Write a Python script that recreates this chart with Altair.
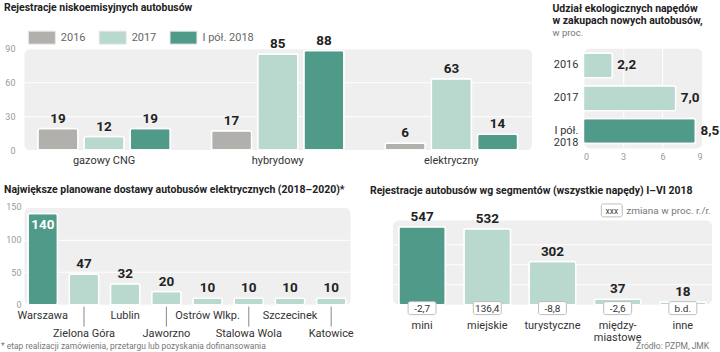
import altair as alt
import pandas as pd

# ---------------- data ----------------
p1_categories = ["gazowy CNG", "hybrydowy", "elektryczny"]
p1_years = ["2016", "2017", "I pół. 2018"]
p1_2016 = [19, 17, 6]
p1_2017 = [12, 85, 63]
p1_2018 = [19, 88, 14]

p2_years = ["2016", "2017", "I pół. 2018"]
p2_ylabels = ["2016", "2017", "I pół.\n2018"]
p2_values = [2.2, 7.0, 8.5]

p3_cities = ["Warszawa", "Zielona Góra", "Lublin", "Jaworzno",
             "Ostrów Wlkp.", "Stalowa Wola", "Szczecinek", "Katowice"]
p3_values = [140, 47, 32, 20, 10, 10, 10, 10]

p4_segments = ["mini", "miejskie", "turystyczne", "międzymiastowe", "inne"]
p4_labels = ["mini", "miejskie", "turystyczne", "między-\nmiastowe", "inne"]
p4_values = [547, 532, 302, 37, 18]
p4_changes = ["-2,7", "136,4", "-8,8", "-2,6", "b.d."]
p4_ticks = [0, 140, 280, 420, 560]

# ---------------- style ----------------
GRAY = "#b1b0ac"
LIGHT = "#b9d9cf"
TEAL = "#4f9a88"
BG = "#efefef"
BOLD = "Roboto"
REG = "Roboto"
AXLAB = "#9a9a9a"
TSIZE = 10.5
VSIZE = 13.5


def pl(v):
    return f"{v:.1f}".replace(".", ",")


# ---------------- panel 1 ----------------
rows1 = []
for vals, yr in zip([p1_2016, p1_2017, p1_2018], p1_years):
    for c, v in zip(p1_categories, vals):
        rows1.append({"category": c, "year": yr, "value": v})
df1 = pd.DataFrame(rows1)

base1 = alt.Chart(df1).encode(
    x=alt.X("category:N", sort=p1_categories,
            scale=alt.Scale(paddingInner=0.237, paddingOuter=0.08),
            axis=alt.Axis(title=None, labelAngle=0, ticks=False, domain=False,
                          labelPadding=4, labelFontSize=11, labelColor="#333",
                          labelFont=REG, grid=False)),
    xOffset=alt.XOffset("year:N", sort=p1_years,
                        scale=alt.Scale(paddingInner=0.13, paddingOuter=0)),
    y=alt.Y("value:Q", scale=alt.Scale(domain=[0, 90], nice=False),
            axis=alt.Axis(values=[0, 30, 60, 90], title=None, ticks=False,
                          domain=False, labelColor=AXLAB, labelFontSize=9,
                          labelFont=REG, gridColor="white", labelPadding=9)),
)
bars1 = base1.mark_bar(cornerRadius=2, stroke="white", strokeWidth=1.5).encode(
    color=alt.Color("year:N", sort=p1_years,
                    scale=alt.Scale(domain=p1_years, range=[GRAY, LIGHT, TEAL]),
                    legend=alt.Legend(title=None, orient="none", legendX=4, legendY=-25,
                                      direction="horizontal",
                                      symbolType="M-1,-0.48H1V0.48H-1Z",
                                      symbolSize=729, symbolStrokeWidth=1,
                                      symbolStrokeColor="#e6e6e6",
                                      labelFont=REG, labelFontSize=11,
                                      labelColor="#666", columnPadding=11,
                                      labelOffset=5))
)
text1 = base1.mark_text(baseline="bottom", dy=-3, font=BOLD, fontWeight="bold",
                        fontSize=VSIZE, color="#222").encode(text="value:Q")
p1 = alt.layer(bars1, text1).properties(
    width=509, height=102,
    title=alt.TitleParams(text="Rejestracje niskoemisyjnych autobusów", anchor="start",
                          frame="group", dx=-20, offset=10, font=BOLD,
                          fontSize=TSIZE, fontWeight="bold", color="#222"))

# ---------------- panel 2 ----------------
df2 = pd.DataFrame({"year": p2_years, "ylabel": p2_ylabels, "value": p2_values,
                    "label": [pl(v) for v in p2_values], "hl": [0, 0, 1]})
y2 = alt.Y("year:N", sort=p2_years, axis=None,
           scale=alt.Scale(paddingInner=0.24, paddingOuter=0.14))
x2 = alt.X("value:Q", scale=alt.Scale(domain=[0, 9], nice=False),
           axis=alt.Axis(values=[0, 3, 6, 9], title=None, ticks=False, domain=False,
                         labelColor=AXLAB, labelFontSize=9, labelFont=REG,
                         gridColor="white", labelPadding=4))
bars2 = alt.Chart(df2).mark_bar(cornerRadius=2, stroke="white", strokeWidth=1.5).encode(
    x=x2, y=y2,
    color=alt.Color("hl:N", scale=alt.Scale(domain=[0, 1], range=[LIGHT, TEAL]), legend=None))
text2 = alt.Chart(df2).mark_text(align="left", dx=5, font=BOLD, fontWeight="bold",
                                 fontSize=VSIZE, color="#222").encode(x=x2, y=y2, text="label:N")
ylab2 = alt.Chart(df2).mark_text(align="right", baseline="middle", lineBreak="\n",
                                 font=REG, fontSize=11, color="#333", lineHeight=12).encode(
    x=alt.value(-5), y=y2, text="ylabel:N")
p2 = alt.layer(bars2, text2, ylab2).properties(
    width=119, height=100,
    title=alt.TitleParams(text=["Udział ekologicznych napędów", "w zakupach nowych autobusów,"],
                          subtitle="w proc.", anchor="start", frame="group", dx=-31,
                          offset=11, font=BOLD, fontSize=TSIZE, fontWeight="bold",
                          color="#222", lineHeight=12, subtitleFont=REG,
                          subtitleFontSize=9.5, subtitleColor="#777", subtitlePadding=1))

# ---------------- panel 3 ----------------
df3 = pd.DataFrame({"city": p3_cities, "value": p3_values,
                    "hl": [1 if i == 0 else 0 for i in range(len(p3_cities))],
                    "row": [i % 2 for i in range(len(p3_cities))]})
H3 = 98
x3 = alt.X("city:N", sort=p3_cities, axis=None,
           scale=alt.Scale(paddingInner=0.285, paddingOuter=0.1))
y3 = alt.Y("value:Q", scale=alt.Scale(domain=[0, 150], nice=False),
           axis=alt.Axis(values=[0, 50, 100, 150], title=None, ticks=False, domain=False,
                         labelColor=AXLAB, labelFontSize=9, labelFont=REG,
                         gridColor="white", labelPadding=3))
base3 = alt.Chart(df3).encode(x=x3)
bars3 = base3.mark_bar(cornerRadius=2, stroke="white", strokeWidth=1.5).encode(
    y=y3, color=alt.Color("hl:N", scale=alt.Scale(domain=[0, 1], range=[LIGHT, TEAL]), legend=None))
text3a = base3.transform_filter("datum.hl == 0").mark_text(
    baseline="bottom", dy=-3, font=BOLD, fontWeight="bold", fontSize=VSIZE, color="#222").encode(
    y=y3, text="value:Q")
text3b = base3.transform_filter("datum.hl == 1").mark_text(
    baseline="top", dy=5, font=BOLD, fontWeight="bold", fontSize=VSIZE, color="white").encode(
    y=y3, text="value:Q")
lab3a = base3.transform_filter("datum.row == 0").mark_text(
    baseline="top", font=REG, fontSize=11, color="#333").encode(
    y=alt.value(H3 + 5), text="city:N")
lab3b = base3.transform_filter("datum.row == 1").mark_text(
    baseline="top", font=REG, fontSize=11, color="#333").encode(
    y=alt.value(H3 + 23), text="city:N")
rule3 = base3.transform_filter("datum.row == 1").mark_rule(color="#888", strokeWidth=1).encode(
    y=alt.value(H3 + 2), y2=alt.value(H3 + 22))
note3 = base3.transform_filter("datum.hl == 1").mark_text(
    align="left", baseline="top", font=REG, fontSize=8.5, color="#777").encode(
    x=alt.value(-23), y=alt.value(H3 + 37),
    text=alt.value("* etap realizacji zamówienia, przetargu lub pozyskania dofinansowania"))
p3 = alt.layer(bars3, text3a, text3b, rule3, lab3a, lab3b, note3).properties(
    width=327, height=H3,
    title=alt.TitleParams(text="Największe planowane dostawy autobusów elektrycznych (2018–2020)*",
                          anchor="start", frame="group", dx=-20, offset=7, font=BOLD,
                          fontSize=TSIZE, fontWeight="bold", color="#222"))

# ---------------- panel 4 ----------------
df4 = pd.DataFrame({"seg": p4_segments, "label": p4_labels, "value": p4_values,
                    "change": p4_changes, "hl": [1, 0, 0, 0, 0]})
H4 = 98
W4 = 320
x4 = alt.X("seg:N", sort=p4_segments, axis=None,
           scale=alt.Scale(paddingInner=0.285, paddingOuter=0.09))
y4scale = alt.Scale(domain=[0, 686], nice=False)
y4 = alt.Y("value:Q", scale=y4scale,
           axis=alt.Axis(values=p4_ticks, title=None, ticks=False, domain=False,
                         labelColor=AXLAB, labelFontSize=9, labelFont=REG,
                         grid=False, labelPadding=8))
bg4 = alt.Chart(pd.DataFrame({"y0": [0], "y1": [590]})).mark_rect(
    fill=BG, cornerRadius=6).encode(
    x=alt.value(0), x2=alt.value(W4),
    y=alt.Y("y0:Q", scale=y4scale, axis=None), y2="y1:Q")
grid4 = alt.Chart(pd.DataFrame({"t": p4_ticks[1:-1]})).mark_rule(
    color="white", strokeWidth=1).encode(
    y=alt.Y("t:Q", scale=y4scale, axis=None), x=alt.value(0), x2=alt.value(W4))
base4 = alt.Chart(df4).encode(x=x4)
bars4 = base4.mark_bar(cornerRadius=2, stroke="white", strokeWidth=1.5).encode(
    y=y4, color=alt.Color("hl:N", scale=alt.Scale(domain=[0, 1], range=[LIGHT, TEAL]), legend=None))
text4 = base4.mark_text(baseline="bottom", dy=-3, font=BOLD, fontWeight="bold",
                        fontSize=VSIZE, color="#222").encode(y=y4, text="value:Q")
box4 = base4.mark_bar(width=28, fill="white", stroke="#bdbdbd", strokeWidth=1,
                      cornerRadius=2).encode(y=alt.value(H4 - 3), y2=alt.value(H4 + 10))
chg4 = base4.mark_text(baseline="middle", font=REG, fontSize=10, color="#333").encode(
    y=alt.value(H4 + 4), text="change:N")
lab4 = base4.mark_text(baseline="top", lineBreak="\n", font=REG, fontSize=11,
                       color="#333", lineHeight=12).encode(
    y=alt.value(H4 + 15), text="label:N")
first4 = base4.transform_filter("datum.hl == 1")
legbox4 = first4.mark_rect(fill="white", stroke="#bdbdbd", strokeWidth=1, cornerRadius=2).encode(
    x=alt.value(209), x2=alt.value(230), y=alt.value(-3), y2=alt.value(10))
legtxt4a = first4.mark_text(baseline="middle", font=REG, fontSize=8.5, color="#444").encode(
    x=alt.value(219.5), y=alt.value(4), text=alt.value("xxx"))
legtxt4b = first4.mark_text(align="left", baseline="middle", font=REG, fontSize=10,
                            color="#777").encode(
    x=alt.value(234), y=alt.value(4), text=alt.value("zmiana w proc. r./r."))
src4 = first4.mark_text(align="right", baseline="top", font=REG, fontSize=8.5,
                        color="#777").encode(
    x=alt.value(W4 - 3), y=alt.value(H4 + 37), text=alt.value("Źródło: PZPM, JMK"))
p4 = alt.layer(bg4, grid4, bars4, text4, box4, chg4, lab4, legbox4, legtxt4a,
               legtxt4b, src4).properties(
    width=W4, height=H4, view=alt.ViewBackground(fill="transparent", stroke="transparent"),
    title=alt.TitleParams(text="Rejestracje autobusów wg segmentów (wszystkie napędy) I–VI 2018",
                          anchor="start", frame="group", dx=-23, offset=7, font=BOLD,
                          fontSize=TSIZE, fontWeight="bold", color="#222"))

row1 = alt.hconcat(p1, p2, spacing=52, bounds="flush").resolve_scale(
    color="independent", x="independent", y="independent")
row2 = alt.hconcat(p3, p4, spacing=43, bounds="flush").resolve_scale(
    color="independent", x="independent", y="independent")

chart = alt.vconcat(row1, row2, spacing=19).resolve_scale(
    color="independent", x="independent", y="independent").properties(
    padding={"left": 0, "top": 2, "right": 0, "bottom": 0},
    background="white",
).configure_view(fill=BG, stroke="transparent", cornerRadius=6)

chart.save("out.html", embed_options={"renderer": "svg", "actions": False})
